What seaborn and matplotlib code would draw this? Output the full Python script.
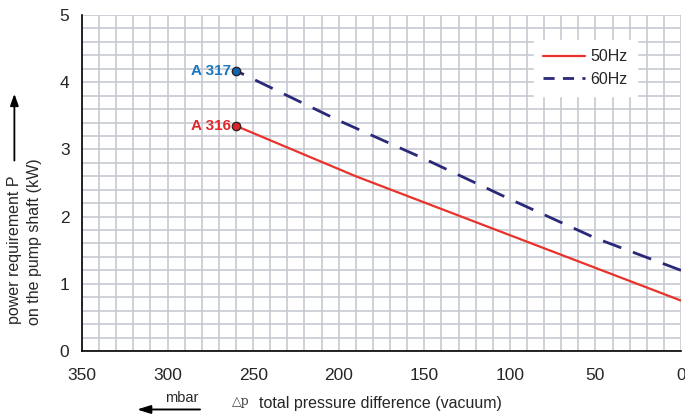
import numpy as np
import pandas as pd
import matplotlib
matplotlib.use("Agg")
import matplotlib.pyplot as plt
from matplotlib.ticker import MultipleLocator
import seaborn as sns

# data
dp_50 = [260, 190, 0]
p_50 = [3.35, 2.60, 0.75]
dp_60 = [260, 200, 150, 100, 50, 0]
p_60 = [4.17, 3.43, 2.86, 2.26, 1.68, 1.20]
x_ticks = [350, 300, 250, 200, 150, 100, 50, 0]
y_ticks = [0, 1, 2, 3, 4, 5]

sns.set_style("white")
plt.rcParams["font.family"] = ["Liberation Sans", "DejaVu Sans"]

df50 = pd.DataFrame({"dp": dp_50, "P": p_50})
df60 = pd.DataFrame({"dp": dp_60, "P": p_60})

fig = plt.figure(figsize=(6.85, 4.17), dpi=100)
ax = fig.add_axes([0.1197, 0.1583, 0.8745, 0.8057])

red = "#e8322b"
navy = "#2a2878"
sns.lineplot(data=df50, x="dp", y="P", ax=ax, color=red, lw=1.6, label="50Hz")
sns.lineplot(data=df60, x="dp", y="P", ax=ax, color=navy, lw=2.0, label="60Hz")
ax.lines[1].set_dashes((7, 4.5))

# start points
ax.plot(dp_60[0], p_60[0], "o", ms=6, mfc="#1366aa", mec="#222233", mew=1, zorder=5)
ax.plot(dp_50[0], p_50[0], "o", ms=6, mfc="#d8262a", mec="#332222", mew=1, zorder=5)
ax.text(dp_60[0] + 3, p_60[0], "A 317", color="#1a78c2", fontsize=11,
        fontweight="bold", ha="right", va="center")
ax.text(dp_50[0] + 3, p_50[0], "A 316", color="#e0282a", fontsize=11,
        fontweight="bold", ha="right", va="center")

ax.set_xlim(350, 0)
ax.set_ylim(0, 5)
ax.set_xticks(x_ticks)
ax.set_yticks(y_ticks)
ax.xaxis.set_minor_locator(MultipleLocator(10))
ax.yaxis.set_minor_locator(MultipleLocator(0.2))
ax.grid(which="both", color="#c6c9d2", lw=1.2)
ax.set_axisbelow(True)
for s in ["top", "right"]:
    ax.spines[s].set_visible(False)
for s in ["left", "bottom"]:
    ax.spines[s].set_color("black")
    ax.spines[s].set_linewidth(1.2)
ax.tick_params(which="major", direction="out", length=5, width=1.2,
               color="black", labelsize=12.5, pad=4)
ax.tick_params(axis="x", pad=7)
ax.tick_params(which="minor", length=0)
ax.set_xlabel("")
ax.set_ylabel("")

leg = ax.legend(loc="upper right", bbox_to_anchor=(0.94, 0.95), frameon=True,
                fancybox=False, framealpha=1, edgecolor="white", fontsize=11.5,
                handlelength=2.6, handletextpad=0.35, labelspacing=0.45,
                borderpad=0.6)
leg.get_lines()[1].set_dashes((4, 3))

# axis labels
fig.text(0.021, 0.40, "power requirement P", rotation=90, ha="center",
         va="center", fontsize=11.5)
fig.text(0.050, 0.42, "on the pump shaft (kW)", rotation=90, ha="center",
         va="center", fontsize=11.5)
fig.add_artist(matplotlib.patches.FancyArrowPatch(
    (0.021, 0.615), (0.021, 0.775), transform=fig.transFigure,
    arrowstyle="-|>,head_length=7,head_width=2.5", color="black", lw=1.3,
    shrinkA=0, shrinkB=0))

fig.text(0.378, 0.033, "total pressure difference (vacuum)", ha="left",
         va="center", fontsize=11.5)
fig.text(0.364, 0.036, "\u25b3p", ha="right", va="center", fontsize=9,
         family="DejaVu Serif", color="#444444")
fig.text(0.266, 0.045, "mbar", ha="center", va="center", fontsize=10.5)
fig.add_artist(matplotlib.patches.FancyArrowPatch(
    (0.292, 0.018), (0.2, 0.018), transform=fig.transFigure,
    arrowstyle="-|>,head_length=8,head_width=2.5", color="black", lw=1.4,
    shrinkA=0, shrinkB=0))

fig.savefig("out.png", dpi=100)
